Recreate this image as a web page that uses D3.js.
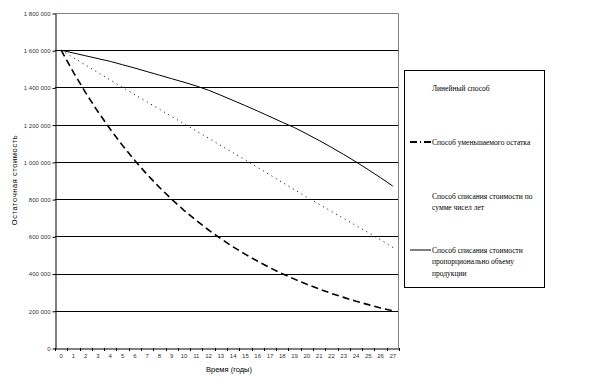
<!DOCTYPE html>
<html>
<head>
<meta charset="utf-8">
<script src="https://cdn.jsdelivr.net/npm/d3@7"></script>
<style>
  body { margin: 0; background: #fff; }
  svg { display: block; font-family: "Liberation Sans", Arial, sans-serif; }
</style>
</head>
<body>
<div id="chart"></div>
<script>
// years 0..27
const years = d3.range(0, 28);
const yTicks = [0, 200000, 400000, 600000, 800000, 1000000, 1200000, 1400000, 1600000, 1800000];

// declining balance (dashed)
const declining = [1600000, 1481000, 1371000, 1269000, 1175000, 1088000, 1007000, 932000, 863000, 799000,
  740000, 685000, 634000, 587000, 543000, 503000, 466000, 431000, 399000, 370000,
  342000, 317000, 293000, 272000, 251000, 233000, 215000, 200000];
// sum of years digits (dotted)
const sumYears = [1600000, 1560000, 1520000, 1480000, 1440000, 1400000, 1361000, 1322000, 1283000, 1244000,
  1205000, 1166000, 1127000, 1088000, 1049000, 1010000, 970000, 930000, 890000, 850000,
  810000, 772000, 734000, 696000, 658000, 620000, 582000, 540000];
// units of production (solid)
const production = [1600000, 1585000, 1570000, 1555000, 1540000, 1522000, 1504000, 1485000, 1466000, 1447000,
  1428000, 1408000, 1385000, 1358000, 1330000, 1302000, 1273000, 1243000, 1213000, 1184000,
  1150000, 1115000, 1078000, 1040000, 1000000, 958000, 915000, 870000];

const legendItems = [
  {lines: ["Линейный способ"], dash: null},
  {lines: ["Способ уменьшаемого остатка"], dash: "7,3,1,3", width: 2},
  {lines: ["Способ списания стоимости по", "сумме чисел лет"], dash: null},
  {lines: ["Способ списания стоимости", "пропорционально объему", "продукции"], dash: "", width: 1}
];

const W = 613, H = 386;
const pLeft = 55, pRight = 399, pTop = 13, pBottom = 348;

const svg = d3.select("#chart").append("svg")
  .attr("width", W).attr("height", H);

const x = d3.scaleBand().domain(years).range([pLeft, pRight]);
const y = d3.scaleLinear().domain([0, 1800000]).range([pBottom, pTop]);
const fmt = v => d3.format(",")(v).replace(/,/g, " ");

// gridlines
svg.append("g").selectAll("line")
  .data(yTicks.filter(d => d > 0 && d < 1800000))
  .enter().append("line")
  .attr("x1", pLeft).attr("x2", pRight - 1)
  .attr("y1", d => Math.round(y(d)) + 0.5).attr("y2", d => Math.round(y(d)) + 0.5)
  .attr("stroke", "#000").attr("stroke-width", 1);

// plot border top/right
svg.append("path")
  .attr("d", `M${pLeft},${pTop + 0.5}H${pRight - 0.5}V${pBottom}`)
  .attr("fill", "none").attr("stroke", "#808080");

// y axis
const yAxis = svg.append("g")
  .attr("transform", `translate(${pLeft + 0.5},0.5)`)
  .call(d3.axisLeft(y).tickValues(yTicks).tickFormat(fmt).tickSize(3).tickSizeOuter(0));
yAxis.select(".domain").attr("stroke", "#000");
yAxis.selectAll("text").attr("font-size", 6).attr("x", -5).attr("fill", "#333");

// x axis
const xAxis = svg.append("g")
  .attr("transform", `translate(0,${pBottom + 0.5})`)
  .call(d3.axisBottom(x).tickSize(0).tickSizeOuter(0));
xAxis.select(".domain").attr("stroke", "#000");
xAxis.selectAll("text").attr("font-size", 6).attr("dy", 0).attr("y", 9).attr("fill", "#333");
// ticks between categories
svg.append("g").selectAll("line")
  .data(years.concat([28]))
  .enter().append("line")
  .attr("x1", d => Math.round(pLeft + d * x.bandwidth()) + 0.5)
  .attr("x2", d => Math.round(pLeft + d * x.bandwidth()) + 0.5)
  .attr("y1", pBottom).attr("y2", pBottom + 3)
  .attr("stroke", "#000");

// axis titles
svg.append("text")
  .attr("x", 229).attr("y", 372)
  .attr("text-anchor", "middle").attr("font-size", 7.5)
  .text("Время (годы)");
svg.append("text")
  .attr("transform", "translate(17,180) rotate(-90)")
  .attr("text-anchor", "middle").attr("font-size", 7.5)
  .attr("letter-spacing", 0.6)
  .text("Остаточная стоимость");

// series
const line = d3.line()
  .x((d, i) => x(years[i]) + x.bandwidth() / 2)
  .y(d => y(d));

svg.append("path").datum(sumYears)
  .attr("d", line).attr("fill", "none")
  .attr("stroke", "#000").attr("stroke-width", 1).attr("stroke-dasharray", "1,4");
svg.append("path").datum(production)
  .attr("d", line).attr("fill", "none")
  .attr("stroke", "#000").attr("stroke-width", 1);
svg.append("path").datum(declining)
  .attr("d", line).attr("fill", "none")
  .attr("stroke", "#000").attr("stroke-width", 1.6).attr("stroke-dasharray", "7,4");

// legend
const lg = svg.append("g").attr("font-family", "'Liberation Serif', 'Times New Roman', serif");
lg.append("rect")
  .attr("x", 404.5).attr("y", 70.5).attr("width", 140).attr("height", 217)
  .attr("fill", "#fff").attr("stroke", "#000");

const itemY = [88, 142, 196, 250];
legendItems.forEach((it, i) => {
  const g = lg.append("g");
  if (it.dash !== null) {
    g.append("line")
      .attr("x1", 410).attr("x2", 431)
      .attr("y1", itemY[i]).attr("y2", itemY[i])
      .attr("stroke", "#000").attr("stroke-width", it.width)
      .attr("stroke-dasharray", it.dash);
  }
  it.lines.forEach((t, j) => {
    g.append("text")
      .attr("x", 432).attr("y", itemY[i] + 2.5 + j * 11.5)
      .attr("font-size", 7.5)
      .text(t);
  });
});
</script>
</body>
</html>
